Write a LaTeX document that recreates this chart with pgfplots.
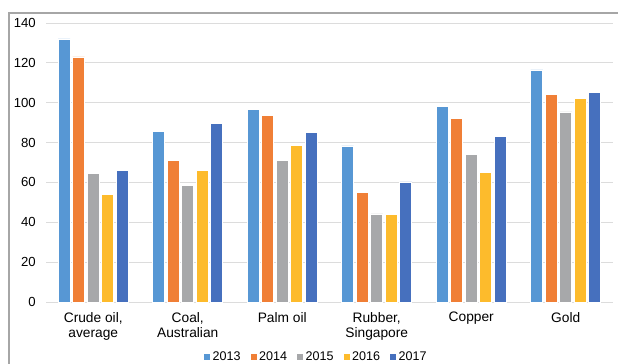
\documentclass[border=0pt]{standalone}
\usepackage{pgfplots}
\pgfplotsset{compat=1.18}
\usepackage{pgfplotstable}
\usepackage{fontspec}
\setmainfont{Liberation Sans}
\definecolor{cA}{HTML}{5797D4}
\definecolor{cB}{HTML}{F07F36}
\definecolor{cC}{HTML}{A7A8AA}
\definecolor{cD}{HTML}{FDBB2C}
\definecolor{cE}{HTML}{4670BE}
\definecolor{gridc}{HTML}{DCDCDC}
\definecolor{framec}{HTML}{A6A6A6}
\pgfplotstableread{
x a b c d e
0 132 123 64.6 54 66
1 85.5 71 58.5 66 89.8
2 96.5 93.7 70.9 78.5 85.1
3 78.3 54.8 44.2 43.8 60.3
4 98 92 74.1 65 83
5 116.5 104 95.4 102.3 105.2
}\datatab
\begin{document}
\begin{tikzpicture}[font=\fontsize{13}{15}\selectfont]
\begin{axis}[
  at={(0,0)}, anchor=south west,
  scale only axis, width=567bp, height=279bp,
  ybar=2.5bp, bar width=12bp,
  xmin=-0.5, xmax=5.5, ymin=0, ymax=140,
  ytick={0,20,...,140},
  xtick=data,
  xticklabels={{Crude oil,\\average},{Coal,\\Australian},{Palm oil},{Rubber,\\Singapore},{Copper},{Gold}},
  xticklabel style={align=center, font=\fontsize{13.8}{15.5}\selectfont, anchor=north, inner sep=0pt, yshift=-10bp},
  yticklabel style={font=\fontsize{13.2}{15}\selectfont, anchor=east, inner sep=0pt, xshift=-10bp},
  /pgf/number format/assume math mode=true,
  major tick length=0pt,
  axis line style={draw=none},
  ymajorgrids, grid style={gridc, line width=0.9bp},
  legend style={at={(0.476,-0.195)}, anchor=center, draw=none, fill=none,
    legend columns=-1, font=\fontsize{12.6}{15}\selectfont,
    /tikz/every even column/.append style={column sep=7bp},
    inner sep=0pt},
  legend image code/.code={\fill[#1] (0bp,-3.5bp) rectangle (7bp,3.5bp);},
  legend cell align=left,
  every axis plot/.append style={draw=white, line width=0.6bp},
]
\addplot[fill=cA] table[x=x,y=a]{\datatab};
\addplot[fill=cB] table[x=x,y=b]{\datatab};
\addplot[fill=cC] table[x=x,y=c]{\datatab};
\addplot[fill=cD] table[x=x,y=d]{\datatab};
\addplot[fill=cE] table[x=x,y=e]{\datatab};
\legend{2013,2014,2015,2016,2017}
\end{axis}
\draw[framec, line width=1.5bp] (-37bp,-70bp) -- (-37bp,289bp) -- (580bp,289bp);
\pgfresetboundingbox
\useasboundingbox (-46bp,-62bp) rectangle (572bp,302bp);
\end{tikzpicture}
\end{document}
